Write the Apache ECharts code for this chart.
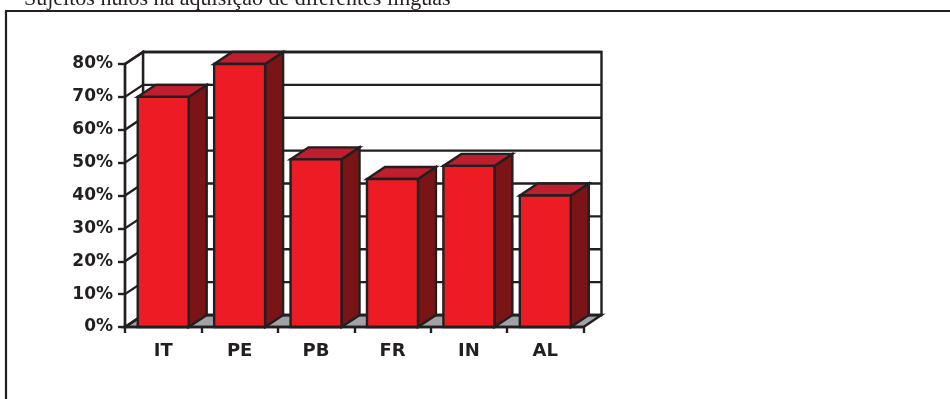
<!DOCTYPE html>
<html>
<head>
<meta charset="utf-8">
<script src="https://cdn.jsdelivr.net/npm/echarts@6/dist/echarts.min.js"></script>
<style>
html,body{margin:0;padding:0;background:#fff;}
#main{width:950px;height:399px;}
</style>
</head>
<body>
<div id="main"></div>
<script>
// ---- data ----
const titleText = 'Sujeitos nulos na aquisição de diferentes línguas';
const categories = ['IT', 'PE', 'PB', 'FR', 'IN', 'AL'];
const values = [70, 80, 51, 45, 49, 40];
const yTicks = [0, 10, 20, 30, 40, 50, 60, 70, 80];

// ---- style constants ----
const INK = '#231f20';
const DX = 18, DY = -12;      // 3D depth offset
const LW = 2.4;
const FRONT = '#ed1c24', SIDE = '#7b1416', TOP = '#be1e2d', FLOOR = '#a0a2a5';

const chart = echarts.init(document.getElementById('main'), null, {renderer: 'canvas'});

function renderWalls(params, api) {
  const cs = params.coordSys;
  const xl = cs.x, xr = cs.x + cs.width;
  const y0 = api.coord([0, 0])[1];
  const yTop = api.coord([0, yTicks[yTicks.length - 1]])[1];
  const children = [];
  children.push({type: 'polygon', shape: {points: [[xl, y0], [xr, y0], [xr + DX, y0 + DY], [xl + DX, y0 + DY]]},
    style: {fill: FLOOR, stroke: INK, lineWidth: LW, lineJoin: 'miter'}});
  children.push({type: 'polygon', shape: {points: [[xl + DX, yTop + DY], [xr + DX, yTop + DY], [xr + DX, y0 + DY], [xl + DX, y0 + DY]]},
    style: {fill: '#fff', stroke: INK, lineWidth: LW}});
  children.push({type: 'polygon', shape: {points: [[xl, yTop], [xl + DX, yTop + DY], [xl + DX, y0 + DY], [xl, y0]]},
    style: {fill: '#fff', stroke: INK, lineWidth: LW}});
  yTicks.forEach(function (t) {
    const y = api.coord([0, t])[1];
    children.push({type: 'polyline', shape: {points: [[xl, y], [xl + DX, y + DY], [xr + DX, y + DY]]},
      style: {fill: null, stroke: INK, lineWidth: LW}});
  });
  return {type: 'group', children: children};
}

function renderBar(params, api) {
  const i = api.value(0), v = api.value(1);
  const base = api.coord([i, 0]);
  const top = api.coord([i, v]);
  const bw = api.size([1, 0])[0];
  const w = bw * 0.667;
  const x0 = base[0] - w / 2, x1 = base[0] + w / 2;
  const yt = top[1], yb = base[1];
  const st = {stroke: INK, lineWidth: LW, lineJoin: 'miter'};
  return {type: 'group', children: [
    {type: 'polygon', shape: {points: [[x1, yb], [x1, yt], [x1 + DX, yt + DY], [x1 + DX, yb + DY]]},
      style: Object.assign({fill: SIDE}, st)},
    {type: 'polygon', shape: {points: [[x0, yt], [x1, yt], [x1 + DX, yt + DY], [x0 + DX, yt + DY]]},
      style: Object.assign({fill: TOP}, st)},
    {type: 'rect', shape: {x: x0, y: yt, width: w, height: yb - yt},
      style: Object.assign({fill: FRONT}, st)}
  ]};
}

const option = {
  animation: false,
  backgroundColor: '#fff',
  grid: {left: 125, right: 366.5, top: 64, bottom: 72, outerBoundsMode: 'none'},
  xAxis: {
    type: 'category',
    data: categories,
    boundaryGap: true,
    axisLine: {lineStyle: {color: INK, width: LW}},
    axisTick: {show: true, length: 6, lineStyle: {color: INK, width: LW}},
    axisLabel: {margin: 15, color: INK, fontFamily: 'DejaVu Sans', fontWeight: 'bold', fontSize: 18},
    z: 5
  },
  yAxis: {
    type: 'value',
    min: 0, max: 80, interval: 10,
    axisLine: {show: true, lineStyle: {color: INK, width: LW}},
    axisTick: {show: true, length: 7, lineStyle: {color: INK, width: LW}},
    splitLine: {show: false},
    axisLabel: {margin: 12, color: INK, fontFamily: 'DejaVu Sans', fontWeight: 'bold', fontSize: 17, formatter: '{value}%'},
    z: 5
  },
  graphic: [
    {type: 'text', left: 24, top: -12, style: {text: titleText, font: '22px "Liberation Serif"', fill: INK}, z: 10},
    {type: 'polyline', shape: {points: [[6, 399], [6, 11], [950, 11]]}, style: {fill: null, stroke: INK, lineWidth: 2.2}, z: 10}
  ],
  series: [
    {type: 'custom', name: 'walls', data: [[0, 0]], renderItem: renderWalls, clip: false, z: 1, silent: true},
    {type: 'custom', name: 'bars', data: categories.map(function (c, i) { return [i, values[i]]; }),
      renderItem: renderBar, clip: false, z: 2, encode: {x: 0, y: 1}}
  ]
};
chart.setOption(option);
</script>
</body>
</html>
